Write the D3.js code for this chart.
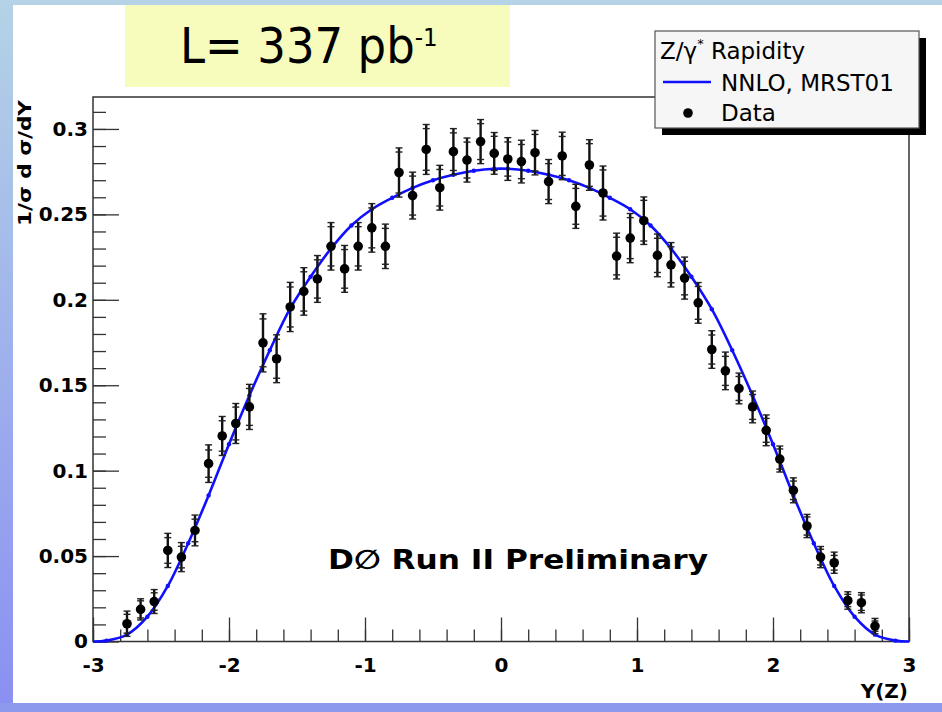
<!DOCTYPE html>
<html><head><meta charset="utf-8">
<script src="https://cdn.jsdelivr.net/npm/d3@7"></script>
<style>body{margin:0;background:#fff} svg{display:block}</style>
</head><body>
<svg id="c" width="942" height="712"></svg>
<script>
// ---- data ----
const binCenters = [-2.75,-2.65,-2.55,-2.45,-2.35,-2.25,-2.15,-2.05,-1.95,-1.85,-1.75,-1.65,-1.55,-1.45,-1.35,-1.25,-1.15,-1.05,-0.95,-0.85,-0.75,-0.65,-0.55,-0.45,-0.35,-0.25,-0.15,-0.05,
  0.05,0.15,0.25,0.35,0.45,0.55,0.65,0.75,0.85,0.95,1.05,1.15,1.25,1.35,1.45,1.55,1.65,1.75,1.85,1.95,2.05,2.15,2.25,2.35,2.45,2.55,2.65,2.75];
const dataValues = [0.0104,0.0188,0.0234,0.0533,0.0494,0.0650,0.1041,0.1203,0.1276,0.1373,0.1748,0.1655,0.1958,0.2049,0.2122,0.2313,0.2181,0.2313,0.2421,0.2313,0.2745,0.2610,0.2880,0.2656,0.2867,0.2818,0.2926,0.2857,
  0.2824,0.2809,0.2861,0.2692,0.2842,0.2547,0.2789,0.2625,0.2256,0.2361,0.2463,0.2260,0.2205,0.2127,0.1982,0.1709,0.1584,0.1481,0.1373,0.1236,0.1068,0.0885,0.0676,0.0494,0.0461,0.0240,0.0227,0.0090];
const errTotal = [0.0074,0.0062,0.0070,0.0100,0.0085,0.0090,0.0110,0.0114,0.0117,0.0132,0.0170,0.0140,0.0144,0.0139,0.0137,0.0139,0.0137,0.0139,0.0142,0.0130,0.0144,0.0137,0.0146,0.0131,0.0135,0.0129,0.0129,0.0122,
  0.0125,0.0125,0.0130,0.0129,0.0139,0.0129,0.0148,0.0158,0.0134,0.0144,0.0139,0.0125,0.0130,0.0123,0.0119,0.0110,0.0110,0.0090,0.0093,0.0090,0.0076,0.0073,0.0068,0.0062,0.0062,0.0051,0.0059,0.0045];
const errStat = [0.0055,0.0050,0.0051,0.0075,0.0063,0.0066,0.0080,0.0089,0.0096,0.0108,0.0140,0.0114,0.0117,0.0115,0.0112,0.0115,0.0113,0.0115,0.0117,0.0105,0.0120,0.0114,0.0122,0.0107,0.0110,0.0105,0.0105,0.0100,
  0.0100,0.0100,0.0107,0.0105,0.0114,0.0105,0.0125,0.0135,0.0110,0.0120,0.0119,0.0100,0.0105,0.0098,0.0096,0.0085,0.0085,0.0070,0.0073,0.0070,0.0059,0.0054,0.0053,0.0046,0.0043,0.0036,0.0045,0.0030];
const theoryY = [-3,-2.9,-2.75,-2.6,-2.45,-2.3,-2.15,-2.0,-1.85,-1.7,-1.55,-1.4,-1.25,-1.1,-0.95,-0.8,-0.65,-0.5,-0.35,-0.2,-0.05,
  0.05,0.2,0.35,0.5,0.65,0.8,0.95,1.1,1.25,1.4,1.55,1.7,1.85,2.0,2.15,2.3,2.45,2.6,2.75,2.9,3];
const theoryValues = [0,0.0005,0.0040,0.0145,0.0325,0.0575,0.0855,0.1155,0.1440,0.1705,0.1950,0.2135,0.2300,0.2435,0.2530,0.2597,0.2655,0.2700,0.2732,0.2755,0.2767,
  0.2767,0.2755,0.2732,0.2700,0.2655,0.2597,0.2530,0.2435,0.2300,0.2135,0.1945,0.1705,0.1440,0.1155,0.0855,0.0575,0.0325,0.0145,0.0040,0.0005,0];
const xTickValues = [-3,-2,-1,0,1,2,3];
const yTickValues = [0,0.05,0.1,0.15,0.2,0.25,0.3];
const yTickLabels = ["0","0.05","0.1","0.15","0.2","0.25","0.3"];
const xMinorTicks = d3.range(-3, 3.001, 0.2);
const yMinorTicks = d3.range(0, 0.3101, 0.01);
const legendTitle = "Z/γ";
const legendEntries = ["NNLO, MRST01", "Data"];

// ---- layout ----
const svg = d3.select("#c");
const W = 942, H = 712;
const fx0 = 93, fx1 = 909, fy0 = 97, fy1 = 641.5;
const x = d3.scaleLinear().domain([-3, 3]).range([fx0, fx1]);
const y = d3.scaleLinear().domain([0, 0.3187]).range([fy1, fy0]);

// background slide border
const defs = svg.append("defs");
const lg = defs.append("linearGradient").attr("id","lg").attr("x1",0).attr("y1",0).attr("x2",0).attr("y2",1);
lg.append("stop").attr("offset","0").attr("stop-color","#b4d3e6");
lg.append("stop").attr("offset","1").attr("stop-color","#8a8ff2");
svg.append("rect").attr("x",0).attr("y",0).attr("width",W).attr("height",H).attr("fill","#fff");
svg.append("rect").attr("x",0).attr("y",0).attr("width",W).attr("height",5).attr("fill","#b4d3e6");
svg.append("rect").attr("x",0).attr("y",0).attr("width",13).attr("height",H).attr("fill","url(#lg)");
svg.append("rect").attr("x",0).attr("y",703).attr("width",W).attr("height",9).attr("fill","#8c99ec");

// luminosity box
svg.append("rect").attr("x",125).attr("y",5).attr("width",385).attr("height",82).attr("fill","#f7fbbb");
const lum = svg.append("text").attr("transform","translate(180,63) scale(0.92,1)")
  .attr("font-family","DejaVu Sans, sans-serif").attr("font-size",49).attr("fill","#000");
lum.append("tspan").text("L= 337 pb");
lum.append("tspan").attr("dy",-17).attr("font-size",25).text("-1");

// frame
const g = svg.append("g");
g.append("rect").attr("x",fx0).attr("y",fy0).attr("width",fx1-fx0).attr("height",fy1-fy0)
  .attr("fill","#fff").attr("stroke","#333").attr("stroke-width",1.5);

// axes
const tickFont = "DejaVu Sans, sans-serif";
const yMinor = g.append("g").attr("transform",`translate(${fx0},0)`)
  .call(d3.axisLeft(y).tickValues(yMinorTicks).tickSize(-13).tickFormat(""));
const yMajor = g.append("g").attr("transform",`translate(${fx0},0)`)
  .call(d3.axisLeft(y).tickValues(yTickValues).tickSize(-26).tickPadding(5).tickFormat((d,i)=>yTickLabels[i]));
const xMinor = g.append("g").attr("transform",`translate(0,${fy1})`)
  .call(d3.axisBottom(x).tickValues(xMinorTicks).tickSize(-12).tickFormat(""));
const xMajor = g.append("g").attr("transform",`translate(0,${fy1})`)
  .call(d3.axisBottom(x).tickValues(xTickValues).tickSize(-24).tickPadding(16).tickFormat(d3.format("d")));
[yMinor,yMajor,xMinor,xMajor].forEach(a=>{
  a.select(".domain").remove();
  a.selectAll("line").attr("stroke","#333").attr("stroke-width",1.3);
  a.selectAll("text").attr("font-family",tickFont).attr("font-weight","bold").attr("font-size",20).attr("fill","#000");
});
xMajor.selectAll("text").text(d => d < 0 ? "-" + Math.abs(d) : String(d));

// axis titles
svg.append("text").attr("transform","translate(31,100) rotate(-90)").attr("text-anchor","end")
  .attr("font-family",tickFont).attr("font-weight","bold").attr("font-size",18)
  .attr("textLength",126).attr("lengthAdjust","spacingAndGlyphs").text("1/σ  d σ/dY");
svg.append("text").attr("x",908).attr("y",698).attr("text-anchor","end")
  .attr("font-family",tickFont).attr("font-weight","bold").attr("font-size",20).text("Y(Z)");

// theory curve
const theory = theoryY.map((t,i)=>({t, v: theoryValues[i]}));
const line = d3.line().x(d=>x(d.t)).y(d=>y(d.v)).curve(d3.curveCatmullRom.alpha(0.5));
g.append("path").datum(theory).attr("d",line).attr("fill","none").attr("stroke","#1010ff").attr("stroke-width",2.6);
g.selectAll(".tm").data(theory.slice(1,-1)).join("circle").attr("class","tm")
  .attr("cx",d=>x(d.t)).attr("cy",d=>y(d.v)).attr("r",2.2).attr("fill","#1010ff");

// data points with error bars
const pts = binCenters.map((c,i)=>({c, v: dataValues[i], et: errTotal[i], es: errStat[i]}));
const pg = g.append("g");
const cap = 3.5;
pts.forEach(p=>{
  const cx = x(p.c);
  pg.append("line").attr("x1",cx).attr("x2",cx).attr("y1",y(p.v+p.et)).attr("y2",y(p.v-p.et))
    .attr("stroke","#111").attr("stroke-width",2.4);
  [p.v+p.et, p.v-p.et, p.v+p.es, p.v-p.es].forEach(v=>{
    pg.append("line").attr("x1",cx-cap).attr("x2",cx+cap).attr("y1",y(v)).attr("y2",y(v))
      .attr("stroke","#222").attr("stroke-width",1.4);
  });
});
pg.selectAll("circle").data(pts).join("circle").attr("cx",d=>x(d.c)).attr("cy",d=>y(d.v)).attr("r",4.8).attr("fill","#000");

// DØ label
svg.append("text").attr("x",328).attr("y",569).attr("font-family",tickFont).attr("font-weight","bold")
  .attr("font-size",27).attr("textLength",380).attr("lengthAdjust","spacingAndGlyphs").text("D∅ Run II Preliminary");

// legend
const lx = 655, ly = 31, lw = 264, lh = 97;
svg.append("rect").attr("x",lx+7).attr("y",ly+7).attr("width",lw).attr("height",lh).attr("fill","#000");
svg.append("rect").attr("x",lx).attr("y",ly).attr("width",lw).attr("height",lh).attr("fill","#f6f6f6")
  .attr("stroke","#555").attr("stroke-width",1.2);
const lt = svg.append("text").attr("x",660).attr("y",59).attr("font-family",tickFont).attr("font-size",23).attr("fill","#000");
lt.append("tspan").text(legendTitle);
lt.append("tspan").attr("dy",-11).attr("font-size",13).text("*");
lt.append("tspan").attr("dy",11).text(" Rapidity");
svg.append("line").attr("x1",663).attr("x2",711).attr("y1",82).attr("y2",82).attr("stroke","#1010ff").attr("stroke-width",2.6);
svg.append("text").attr("x",721).attr("y",91).attr("font-family",tickFont).attr("font-size",23).text(legendEntries[0]);
svg.append("circle").attr("cx",688).attr("cy",113).attr("r",4.8).attr("fill","#000");
svg.append("text").attr("x",721).attr("y",121).attr("font-family",tickFont).attr("font-size",23).text(legendEntries[1]);
</script>
</body></html>
